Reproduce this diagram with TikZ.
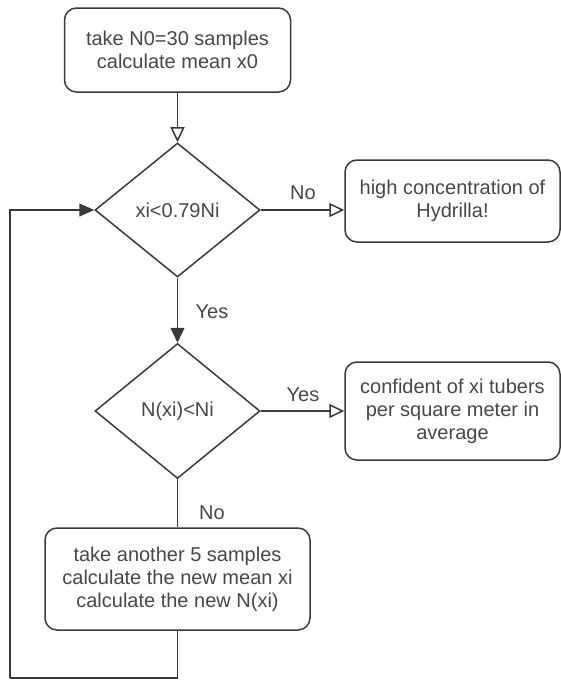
\documentclass[tikz,border=0pt]{standalone}
\usepackage{fontspec}
\setmainfont{Liberation Sans}
\usetikzlibrary{shapes.geometric,arrows.meta}
\definecolor{linec}{HTML}{3A3A3A}
\definecolor{textc}{HTML}{474747}
\begin{document}
\begin{tikzpicture}[x=1pt,y=-1pt,
  every node/.style={font=\fontsize{20}{23}\selectfont, text=textc},
  procbox/.style={draw=linec, line width=1.5pt, rounded corners=12pt, align=center, inner sep=0pt},
  decbox/.style={draw=linec, line width=1.5pt, diamond, inner sep=0pt},
  conn/.style={draw=linec, line width=1.5pt},
  openarr/.style={-{Triangle[open, length=15pt, width=14pt, fill=white]}},
  fillarr/.style={-{Triangle[length=15pt, width=13pt]}},
  lbl/.style={inner sep=0pt}
]
\useasboundingbox (0,0) rectangle (561,681);
\node[procbox, minimum width=226pt, minimum height=84pt] (n0) at (177.5,50) {take N0=30 samples\\calculate mean x0};
\node[decbox, minimum width=165pt, minimum height=134pt] (d1) at (177.5,210) {xi<0.79Ni};
\node[procbox, minimum width=215pt, minimum height=82pt] (hi) at (452.5,201) {high concentration of\\Hydrilla!};
\node[decbox, minimum width=165pt, minimum height=135pt] (d2) at (177.5,411) {N(xi)<Ni};
\node[procbox, minimum width=215pt, minimum height=98pt] (conf) at (452.5,411) {confident of xi tubers\\per square meter in\\average};
\node[procbox, minimum width=265pt, minimum height=102pt] (b4) at (177.5,579) {take another 5 samples\\calculate the new mean xi\\calculate the new N(xi)};
\coordinate (lb) at (10,678);
\draw[conn, openarr] (n0) -- (d1);
\draw[conn, openarr] (d1.east) -- (d1.east -| hi.west);
\draw[conn, -{Triangle[open, length=15pt, width=14pt, fill=linec]}] (d1) -- (d2);
\draw[conn, openarr] (d2.east) -- (d2.east -| conf.west);
\draw[conn] (d2) -- (b4);
\draw[conn] (b4.south) |- (lb);
\draw[conn, fillarr] (lb) |- (d1.west);
\node[lbl] (l1) at (303,193) {No};
\node[lbl] (l2) at (212,312) {Yes};
\node[lbl] (l3) at (303,395) {Yes};
\node[lbl] (l4) at (212,513) {No};
\end{tikzpicture}
\end{document}
